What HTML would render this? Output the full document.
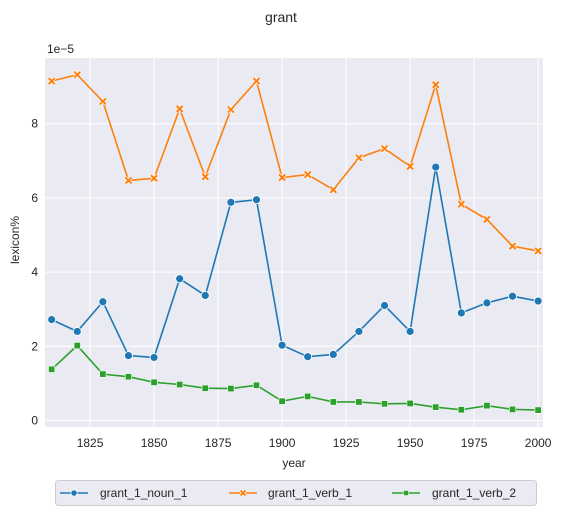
<!DOCTYPE html>
<html><head><meta charset="utf-8"><style>
body{margin:0;background:#fff;font-family:"Liberation Sans",Arial,sans-serif;}
svg text{font-family:"Liberation Sans",Arial,sans-serif;fill:#262626;}
</style></head><body>
<svg id="chart" width="563" height="515" xmlns="http://www.w3.org/2000/svg"></svg>
<script>
const years=[1810,1820,1830,1840,1850,1860,1870,1880,1890,1900,1910,1920,1930,1940,1950,1960,1970,1980,1990,2000];
const noun1=[2.72,2.4,3.2,1.75,1.7,3.82,3.37,5.88,5.95,2.03,1.72,1.78,2.4,3.1,2.4,6.83,2.9,3.17,3.35,3.22];
const verb1=[9.15,9.32,8.6,6.47,6.53,8.4,6.57,8.38,9.15,6.55,6.63,6.22,7.08,7.33,6.85,9.05,5.83,5.42,4.7,4.57];
const verb2=[1.38,2.02,1.25,1.18,1.03,0.97,0.87,0.86,0.95,0.52,0.65,0.5,0.5,0.45,0.46,0.36,0.29,0.4,0.3,0.28];
const xTicks=[1825,1850,1875,1900,1925,1950,1975,2000];
const yTicks=[0,2,4,6,8];
const L=45,R=543,T=58,B=427;
const x=v=>L+(v-1807.4)*(R-L)/(2001.9-1807.4);
const y=v=>420.5-v*37.1;
const NS="http://www.w3.org/2000/svg";
const svg=document.getElementById('chart');
function mk(t,a,p){const e=document.createElementNS(NS,t);for(const k in a)e.setAttribute(k,a[k]);(p||svg).appendChild(e);return e;}
let e;
e=mk('rect',{x:L,y:T,width:R-L,height:B-T,fill:'#eaeaf2'});


xTicks.forEach(t=>{
 e=mk('line',{x1:x(t),x2:x(t),y1:T,y2:B,stroke:'#fff','stroke-width':1});
 
 
 e=mk('text',{x:x(t),y:447,'text-anchor':'middle','font-size':12});e.textContent=t;
 
 
});
yTicks.forEach(t=>{
 e=mk('line',{x1:L,x2:R,y1:y(t),y2:y(t),stroke:'#fff','stroke-width':1});
 
 
 e=mk('text',{x:L-7,y:y(t)+4,'text-anchor':'end','font-size':12});e.textContent=t;
 
 
});
e=mk('text',{x:L+2,y:T-5,'font-size':12});e.textContent='1e−5';


e=mk('text',{x:281,y:22,'text-anchor':'middle','font-size':14});e.textContent='grant';


e=mk('text',{x:294,y:467,'text-anchor':'middle','font-size':12});e.textContent='year';


e=mk('text',{x:19,y:240,'text-anchor':'middle','font-size':12,transform:'rotate(-90 19 240)'});e.textContent='lexicon%';


function marker(kind,cx,cy,c,p,s){
 s=s||1;let m;
 if(kind==='o'){m=mk('circle',{cx:cx,cy:cy,r:4*s,fill:c,stroke:'#fff','stroke-width':0.8},p);}
 else if(kind==='x'){
  m=mk('g',{},p);
  const d=`M${cx-3*s},${cy-3*s}L${cx+3*s},${cy+3*s}M${cx-3*s},${cy+3*s}L${cx+3*s},${cy-3*s}`;
  mk('path',{d:d,stroke:'#fff','stroke-width':3.5},m);
  mk('path',{d:d,stroke:c,'stroke-width':2},m);
 }
 else {m=mk('rect',{x:cx-3.2*s,y:cy-3.2*s,width:6.4*s,height:6.4*s,fill:c,stroke:'#fff','stroke-width':0.6},p);}
 return m;
}
const series=[['grant_1_noun_1',noun1,'#1f77b4','o'],['grant_1_verb_1',verb1,'#ff7f0e','x'],['grant_1_verb_2',verb2,'#2ca02c','s']];
series.forEach(([name,vals,c,k])=>{
 const g=mk('g',{});
 
 
 const pl=mk('polyline',{points:vals.map((v,i)=>x(years[i])+','+y(v)).join(' '),fill:'none',stroke:c,'stroke-width':1.6},g);
 
 
 vals.forEach((v,i)=>{
  const m=marker(k,x(years[i]),y(v),c,g);
  
  
 });
});
const lg=mk('g',{});


e=mk('rect',{x:55.5,y:480.5,width:481,height:25,rx:3,fill:'#eaeaf2',stroke:'#ccc'},lg);


const lx=[60,229,392];
const tx=[100,268,432];
series.forEach(([name,vals,c,k],i)=>{
 const eg=mk('g',{},lg);
 
 
 mk('line',{x1:lx[i],x2:lx[i]+28,y1:493,y2:493,stroke:c,'stroke-width':1.6},eg);
 marker(k,lx[i]+14,493,c,eg,0.8);
 const t=mk('text',{x:tx[i],y:497,'font-size':12},eg);t.textContent=name;
});
</script>
</body></html>
